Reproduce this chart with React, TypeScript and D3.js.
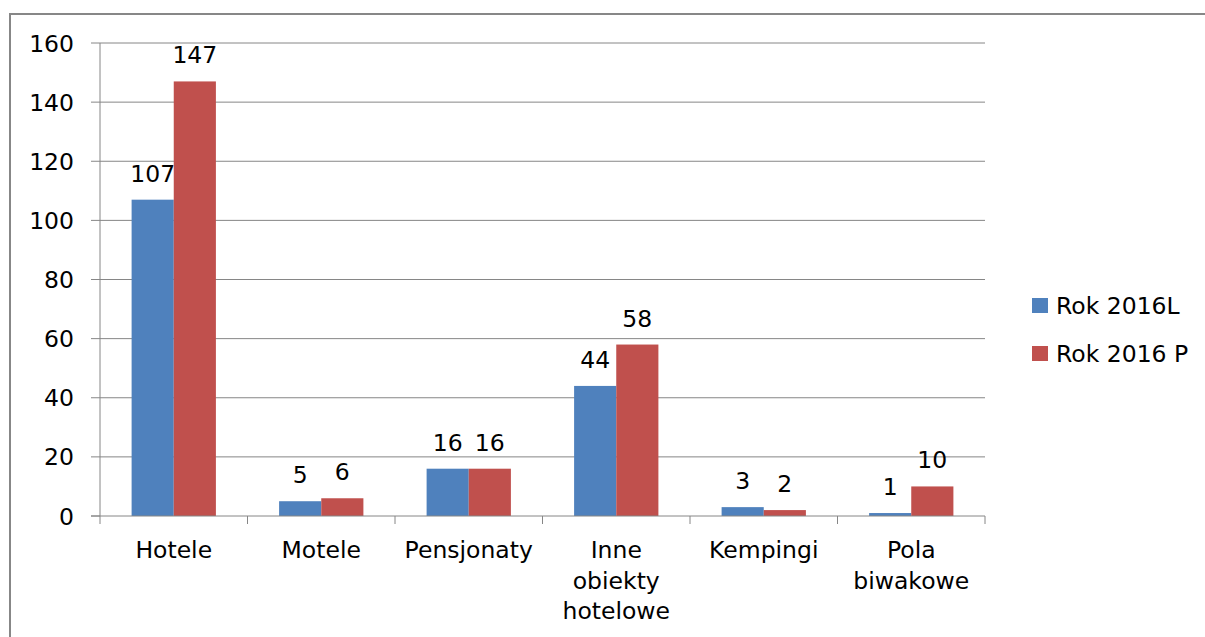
import React from "react";
import * as d3 from "d3";

const categories: string[][] = [
  ["Hotele"],
  ["Motele"],
  ["Pensjonaty"],
  ["Inne", "obiekty", "hotelowe"],
  ["Kempingi"],
  ["Pola", "biwakowe"],
];
const seriesNames = ["Rok 2016L", "Rok 2016 P"];
const values2016L = [107, 5, 16, 44, 3, 1];
const values2016P = [147, 6, 16, 58, 2, 10];
const yTicks = [0, 20, 40, 60, 80, 100, 120, 140, 160];
const colors = ["#4F81BD", "#C0504D"];

const W = 1205;
const H = 637;
const plotLeft = 100;
const plotRight = 985;
const plotTop = 43;
const plotBottom = 516;
const FONT = "'DejaVu Sans', sans-serif";
const FS = 23.5;

export default function App() {
  const series = [values2016L, values2016P];
  const keys = categories.map((c) => c.join(" "));
  const x0 = d3.scaleBand<string>().domain(keys).range([plotLeft, plotRight]).paddingInner(0).paddingOuter(0);
  const groupW = x0.bandwidth() * (2 / 3.5);
  const x1 = d3.scaleBand<number>().domain([0, 1]).range([0, groupW]).padding(0);
  const y = d3.scaleLinear().domain([0, 160]).range([plotBottom, plotTop]);
  const grid = "#868686";

  return (
    <svg width={W} height={H} style={{ position: "absolute", left: 0, top: 0, background: "#fff" }}>
      <rect x={10} y={14} width={W + 20} height={H + 20} fill="#fff" stroke="#878787" strokeWidth={2} />
      {yTicks.map((t) => (
        <g key={t}>
          {t > 0 && <line x1={plotLeft} x2={plotRight} y1={y(t)} y2={y(t)} stroke={grid} strokeWidth={1} />}
          <line x1={plotLeft - 9} x2={plotLeft} y1={y(t)} y2={y(t)} stroke={grid} strokeWidth={1} />
          <text x={74} y={y(t) + 8.5} textAnchor="end" fontFamily={FONT} fontSize={FS} fill="#000">
            {t}
          </text>
        </g>
      ))}
      {keys.map((k, i) => {
        const gx = x0(k)! + (x0.bandwidth() - groupW) / 2;
        return (
          <g key={k}>
            {series.map((vals, s) => {
              const bx = gx + x1(s)!;
              const v = vals[i];
              return (
                <g key={s}>
                  <rect x={bx} y={y(v)} width={x1.bandwidth()} height={plotBottom - y(v)} fill={colors[s]} />
                  <text x={bx + x1.bandwidth() / 2} y={y(v) - 18} textAnchor="middle" fontFamily={FONT} fontSize={FS} fill="#000">
                    {v}
                  </text>
                </g>
              );
            })}
            {categories[i].map((line, li) => (
              <text key={li} x={x0(k)! + x0.bandwidth() / 2} y={558 + li * 30.5} textAnchor="middle" fontFamily={FONT} fontSize={FS} fill="#000">
                {line}
              </text>
            ))}
          </g>
        );
      })}
      <line x1={plotLeft} x2={plotLeft} y1={plotTop} y2={plotBottom} stroke={grid} strokeWidth={1} />
      <line x1={plotLeft - 9} x2={plotRight} y1={plotBottom} y2={plotBottom} stroke={grid} strokeWidth={1} />
      {d3.range(keys.length + 1).map((i) => {
        const tx = plotLeft + x0.step() * i;
        return <line key={i} x1={tx} x2={tx} y1={plotBottom} y2={plotBottom + 8} stroke={grid} strokeWidth={1} />;
      })}
      {seriesNames.map((n, i) => (
        <g key={n}>
          <rect x={1032} y={298 + i * 48} width={16} height={15} fill={colors[i]} />
          <text x={1056} y={314 + i * 48} fontFamily={FONT} fontSize={FS} fill="#000">
            {n}
          </text>
        </g>
      ))}
    </svg>
  );
}
